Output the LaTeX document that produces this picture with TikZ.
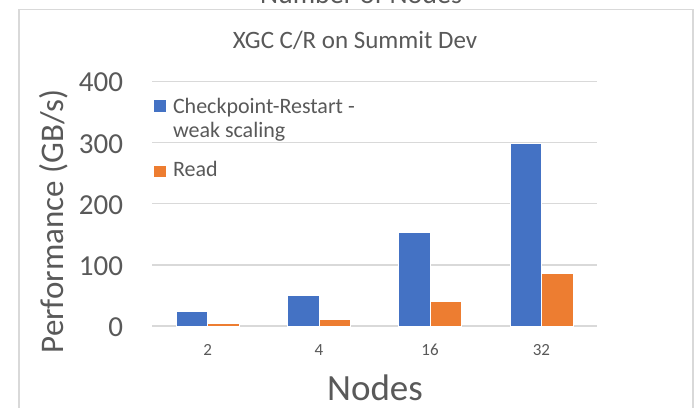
\documentclass[tikz,border=0pt]{standalone}
\usepackage{fontspec}
\setmainfont{Carlito}
\definecolor{txt}{HTML}{595959}
\definecolor{gridc}{HTML}{D9D9D9}
\definecolor{bblue}{HTML}{4472C4}
\definecolor{borange}{HTML}{ED7D31}
\tikzset{
  fs/.style={font=\fontsize{#1}{#1}\selectfont},
  lbl/.style={text=txt, inner sep=0pt, outer sep=0pt},
  gridline/.style={draw=gridc, line width=1.2pt},
  barb/.style={fill=bblue, draw=white, line width=0.4pt},
  baro/.style={fill=borange, draw=white, line width=0.4pt},
}
\begin{document}
\begin{tikzpicture}[x=1pt,y=-1pt]
\useasboundingbox (0,0) rectangle (696,407);
\clip (0,0) rectangle (696,407);
\fill[white] (0,0) rectangle (696,407);
% cut-off text at the top
\node[lbl, fs=28, anchor=base] (cut) at (361,3) {Number of Nodes};
% chart border
\draw[gridc, line width=1.3pt] (19,420) -- (19,9.5) -- (693,9.5) -- (693,420);
% title
\node[lbl, fs=25, anchor=base] (title) at (355,48) {XGC C/R on Summit Dev};
% gridlines
\foreach \v/\n in {0/g0,100/g1,200/g2,300/g3,400/g4}{
  \coordinate (\n a) at (152,{326-0.611*\v});
  \coordinate (\n b) at (597,{326-0.611*\v});
  \draw[gridline] (\n a) -- (\n b);
  \node[lbl, fs=29, anchor=base east] (t\n) at (123,{326-0.611*\v+10.3}) {\v};
}
% bars
\foreach \c/\b/\o/\lab in {207.6/24/5/2, 318.9/51/11.5/4, 430.1/154/40/16, 541.4/300/87/32}{
  \fill[barb] ({\c-31.5},326) rectangle (\c,{326-0.611*\b});
  \fill[baro] (\c,326) rectangle ({\c+31.5},{326-0.611*\o});
  \node[lbl, fs=17, anchor=base] (c\lab) at (\c,355) {\lab};
}
% legend
\fill[bblue] (154,100) rectangle (166,112);
\node[lbl, fs=22, anchor=base west] (leg1) at (173,113) {Checkpoint-Restart -};
\node[lbl, fs=22, anchor=base west] (leg1b) at (173,137) {weak scaling};
\fill[borange] (154,166) rectangle (166,177);
\node[lbl, fs=22, anchor=base west] (leg2) at (173,176) {Read};
% axis titles
\node[lbl, fs=33, anchor=base, rotate=90] (ytitle) at (63,221.5) {Performance (GB/s)};
\node[lbl, fs=37, anchor=base] (xtitle) at (375,400) {Nodes};
\end{tikzpicture}
\end{document}
